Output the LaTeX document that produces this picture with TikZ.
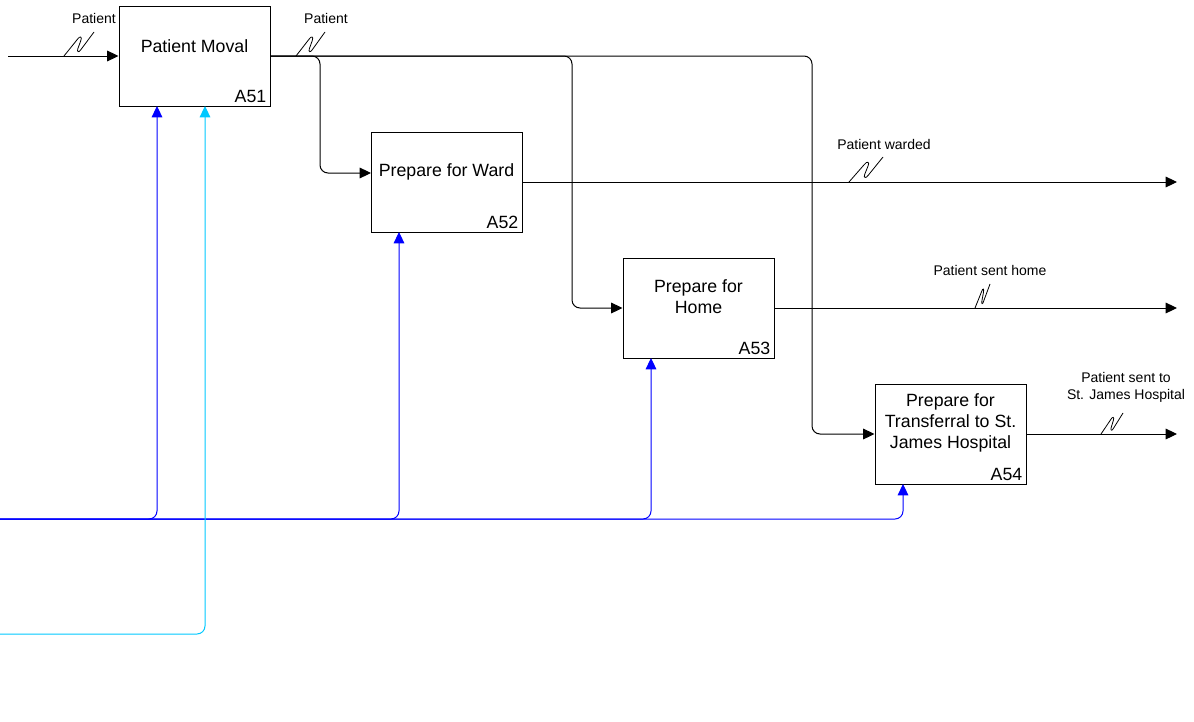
\documentclass[tikz,border=0pt]{standalone}
\usepackage{fontspec}
\setmainfont{Liberation Sans}
\usetikzlibrary{arrows.meta,calc}
\definecolor{ctrlblue}{RGB}{0,0,255}
\definecolor{mechcyan}{RGB}{0,200,255}
\begin{document}
\begin{tikzpicture}[x=0.75pt,y=-0.75pt,
  fn/.style={draw,line width=0.75pt,minimum width=113.25pt,minimum height=75pt,inner sep=0pt},
  fntext/.style={font=\fontsize{13.3}{15.75}\selectfont,align=center,inner sep=0pt},
  fnnum/.style={font=\fontsize{13.3}{15.75}\selectfont,inner sep=3pt,anchor=south east},
  lbl/.style={font=\fontsize{10.5}{12.75}\selectfont,align=center,inner sep=0pt},
  flow/.style={line width=0.75pt,rounded corners=6pt,-{Triangle[length=8.5pt,width=8pt]}},
  ctrl/.style={flow,ctrlblue},
  mech/.style={flow,mechcyan},
  squig/.pic={\draw[line width=0.6pt,rounded corners=0pt] (0,0) -- (0.45,-0.7)
     .. controls (0.52,-0.84) and (0.62,-0.82) .. (0.56,-0.64) -- (0.46,-0.3)
     .. controls (0.42,-0.16) and (0.5,-0.14) .. (0.56,-0.26) -- (1,-1);}
]
\useasboundingbox (0,0) rectangle (1194,721);

% activity boxes
\node[fn] (a51) at (194.5,56) {};
\node[fn] (a52) at (446.5,182) {};
\node[fn] (a53) at (698.5,308) {};
\node[fn] (a54) at (950.5,434) {};

\node[fntext] at ($(a51.center)+(0,-10)$) {Patient Moval};
\node[fntext] at ($(a52.center)+(0,-10)$) {Prepare for Ward};
\node[fntext] at ($(a53.center)+(0,-11)$) {Prepare for\\Home};
\node[fntext] at ($(a54.center)+(0,-11)$) {Prepare for\\Transferral to St.\\James Hospital};

\node[fnnum] at (a51.south east) {A51};
\node[fnnum] at (a52.south east) {A52};
\node[fnnum] at (a53.south east) {A53};
\node[fnnum] at (a54.south east) {A54};

% free ends and entry points
\coordinate (src) at (8,56);
\coordinate (in52) at (371,173);
\coordinate (out52) at (1177,182);
\coordinate (out53) at (1177,308);
\coordinate (out54) at (1177,434);
\coordinate (ctrlsrc) at (0,519);
\coordinate (mechsrc) at (0,634);
\coordinate (c51) at (157,106);
\coordinate (m51) at (205,106);
\coordinate (c52) at (399,232);
\coordinate (c53) at (651,358);
\coordinate (c54) at (903,484);

% inputs and outputs
\draw[flow] (src) -- (a51.west);
\draw[flow] (a51.east) -| (320,173) -- (in52);
\draw[flow] (a51.east) -| (572,308) -- (a53.west);
\draw[flow] (a51.east) -| (812,434) -- (a54.west);
\draw[flow] (a52.east |- out52) -- (out52);
\draw[flow] (a53.east) -- (out53);
\draw[flow] (a54.east) -- (out54);

% controls
\draw[ctrl] (ctrlsrc) -| (c51);
\draw[ctrl] (ctrlsrc) -| (c52);
\draw[ctrl] (ctrlsrc) -| (c53);
\draw[ctrl] (ctrlsrc) -| (c54);

% mechanism
\draw[mech] (mechsrc) -| (m51);

% arrow labels with squiggles
\node[lbl] at (94,18) {Patient};
\pic[xscale=30,yscale=24] at (64,56) {squig};
\node[lbl] at (326,18) {Patient};
\pic[xscale=29,yscale=24] at (296,56) {squig};
\node[lbl] at (884,144) {Patient warded};
\pic[xscale=34,yscale=25] at (849,182) {squig};
\node[lbl] at (990,270) {Patient sent home};
\pic[xscale=15,yscale=24] at (975,308) {squig};
\node[lbl] at (1126,387) {Patient sent to\\St. James Hospital};
\pic[xscale=22,yscale=21] at (1101,434) {squig};
\end{tikzpicture}
\end{document}
